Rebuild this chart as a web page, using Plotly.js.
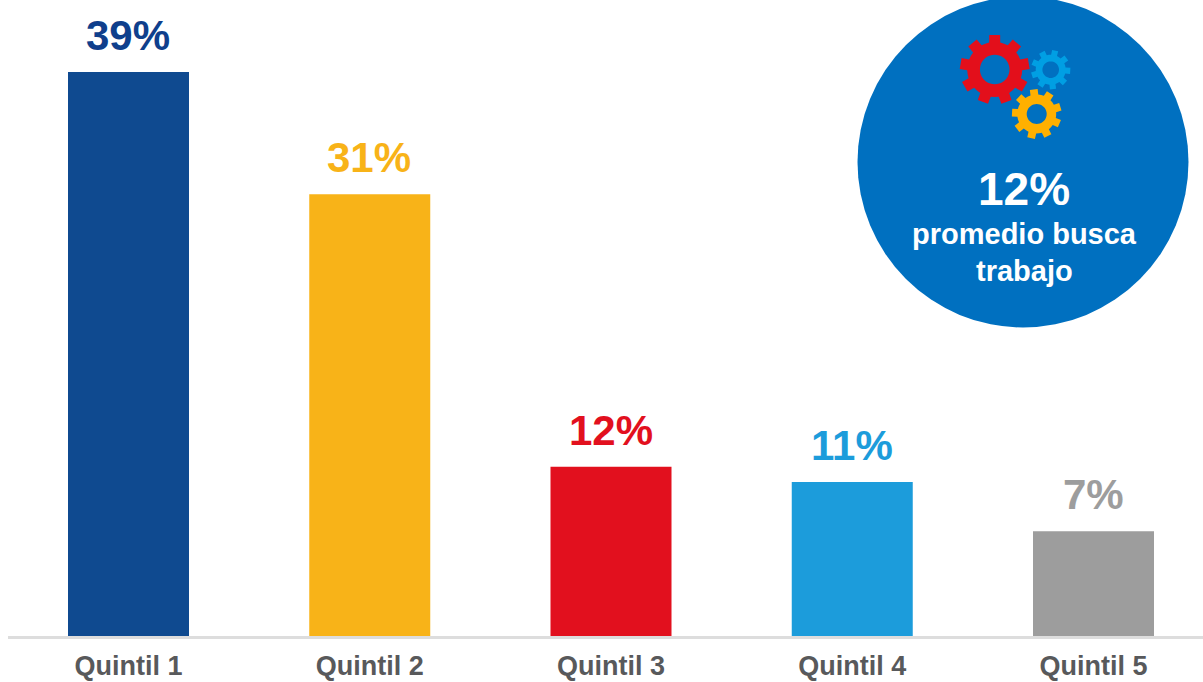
<!DOCTYPE html>
<html><head><meta charset="utf-8">
<script src="https://cdn.plot.ly/plotly-3.0.1.min.js"></script>
<style>html,body{margin:0;padding:0;background:#fff;overflow:hidden}</style>
</head><body><div id="chart" style="width:1203px;height:682px"></div>
<script>
const categories = ["Quintil 1","Quintil 2","Quintil 3","Quintil 4","Quintil 5"];
const values = [39, 30.55, 11.7, 10.65, 7.25];
const valueLabels = ["39%","31%","12%","11%","7%"];
const barColors = ["#0F4A90","#F8B318","#E2101E","#1C9CDB","#9D9D9D"];
const labelColors = ["#0F3F8C","#F8B318","#E2101E","#1C9CDB","#9D9D9D"];

const W=1203,H=682,L=8,B=46;
const pw=W-L, ph=H-B;
const px=x=>(x-L)/pw, py=y=>(ph-y)/ph;
const FONT='"Liberation Sans", Arial, sans-serif';

function gear(cx,cy,rOut,rRoot,rHole,teeth,rot,color){
  let d='';
  const step=2*Math.PI/teeth;
  const hw=step*0.225, hwb=step*0.29;
  for(let i=0;i<teeth;i++){
    const a=rot+i*step;
    const pts=[[rRoot,a-step/2],[rRoot,a-hwb],[rOut,a-hw],[rOut,a+hw],[rRoot,a+hwb]];
    pts.forEach((p,j)=>{
      const X=px(cx+p[0]*Math.sin(p[1])),Y=py(cy-p[0]*Math.cos(p[1]));
      d+=(i===0&&j===0?'M':'L')+X.toFixed(5)+','+Y.toFixed(5)+' ';
    });
  }
  d+='Z ';
  for(let i=0;i<40;i++){
    const a=-i/40*2*Math.PI;
    const X=px(cx+rHole*Math.sin(a)),Y=py(cy-rHole*Math.cos(a));
    d+=(i===0?'M':'L')+X.toFixed(5)+','+Y.toFixed(5)+' ';
  }
  d+='Z';
  return {type:'path',xref:'paper',yref:'paper',path:d,fillcolor:color,line:{width:0},layer:'above'};
}

const circle={type:'circle',xref:'paper',yref:'paper',
  x0:px(857.5),x1:px(1188.5),y0:py(327.5),y1:py(-3.5),
  fillcolor:'#0070C0',line:{width:0},layer:'above'};

const shapes=[circle,
  gear(994.7,69.5,35,27.5,14.8,9,0,'#E30F1B'),
  gear(1050.7,69.7,19.8,15,8.3,9,0.23,'#009FE3'),
  gear(1036.7,114,25,19.5,10,9,-0.12,'#FFB000')];

const annotations=categories.map((c,i)=>({
  x:i,y:values[i],xref:'x',yref:'y',text:'<b>'+valueLabels[i]+'</b>',showarrow:false,
  yanchor:'bottom',yshift:11,xshift:-0.5,font:{family:FONT,size:42,color:labelColors[i]}
}));
[['<b>12%</b>',188.5,46],['<b>promedio busca</b>',234,29],['<b>trabajo</b>',270.5,29]].forEach(t=>{
  annotations.push({xref:'paper',yref:'paper',x:px(1024),y:py(t[1]),text:t[0],showarrow:false,
    xanchor:'center',yanchor:'middle',font:{family:FONT,size:t[2],color:'#fff'}});
});

const pxPerCat=241.25, first=128.5;
Plotly.newPlot('chart',[{
  type:'bar',x:categories.map((c,i)=>i),y:values,width:121/pxPerCat,
  marker:{color:barColors,line:{width:0}},hoverinfo:'skip'
}],{
  width:W,height:H,margin:{l:L,r:0,t:0,b:B,pad:0},
  paper_bgcolor:'#fff',plot_bgcolor:'#fff',showlegend:false,
  xaxis:{range:[(L-first)/pxPerCat,(W-first)/pxPerCat],tickmode:'array',
    tickvals:categories.map((c,i)=>i),ticktext:categories.map(c=>'<b>'+c+'</b>'),
    ticks:'',showgrid:false,zeroline:false,showline:true,linecolor:'#DDDDDD',linewidth:3,
    tickfont:{family:FONT,size:27,color:'#58595B'},ticklabelstandoff:4},
  yaxis:{range:[0,ph/14.46],visible:false,showgrid:false,zeroline:false},
  shapes:shapes,annotations:annotations
},{displayModeBar:false,staticPlot:true});
</script></body></html>
